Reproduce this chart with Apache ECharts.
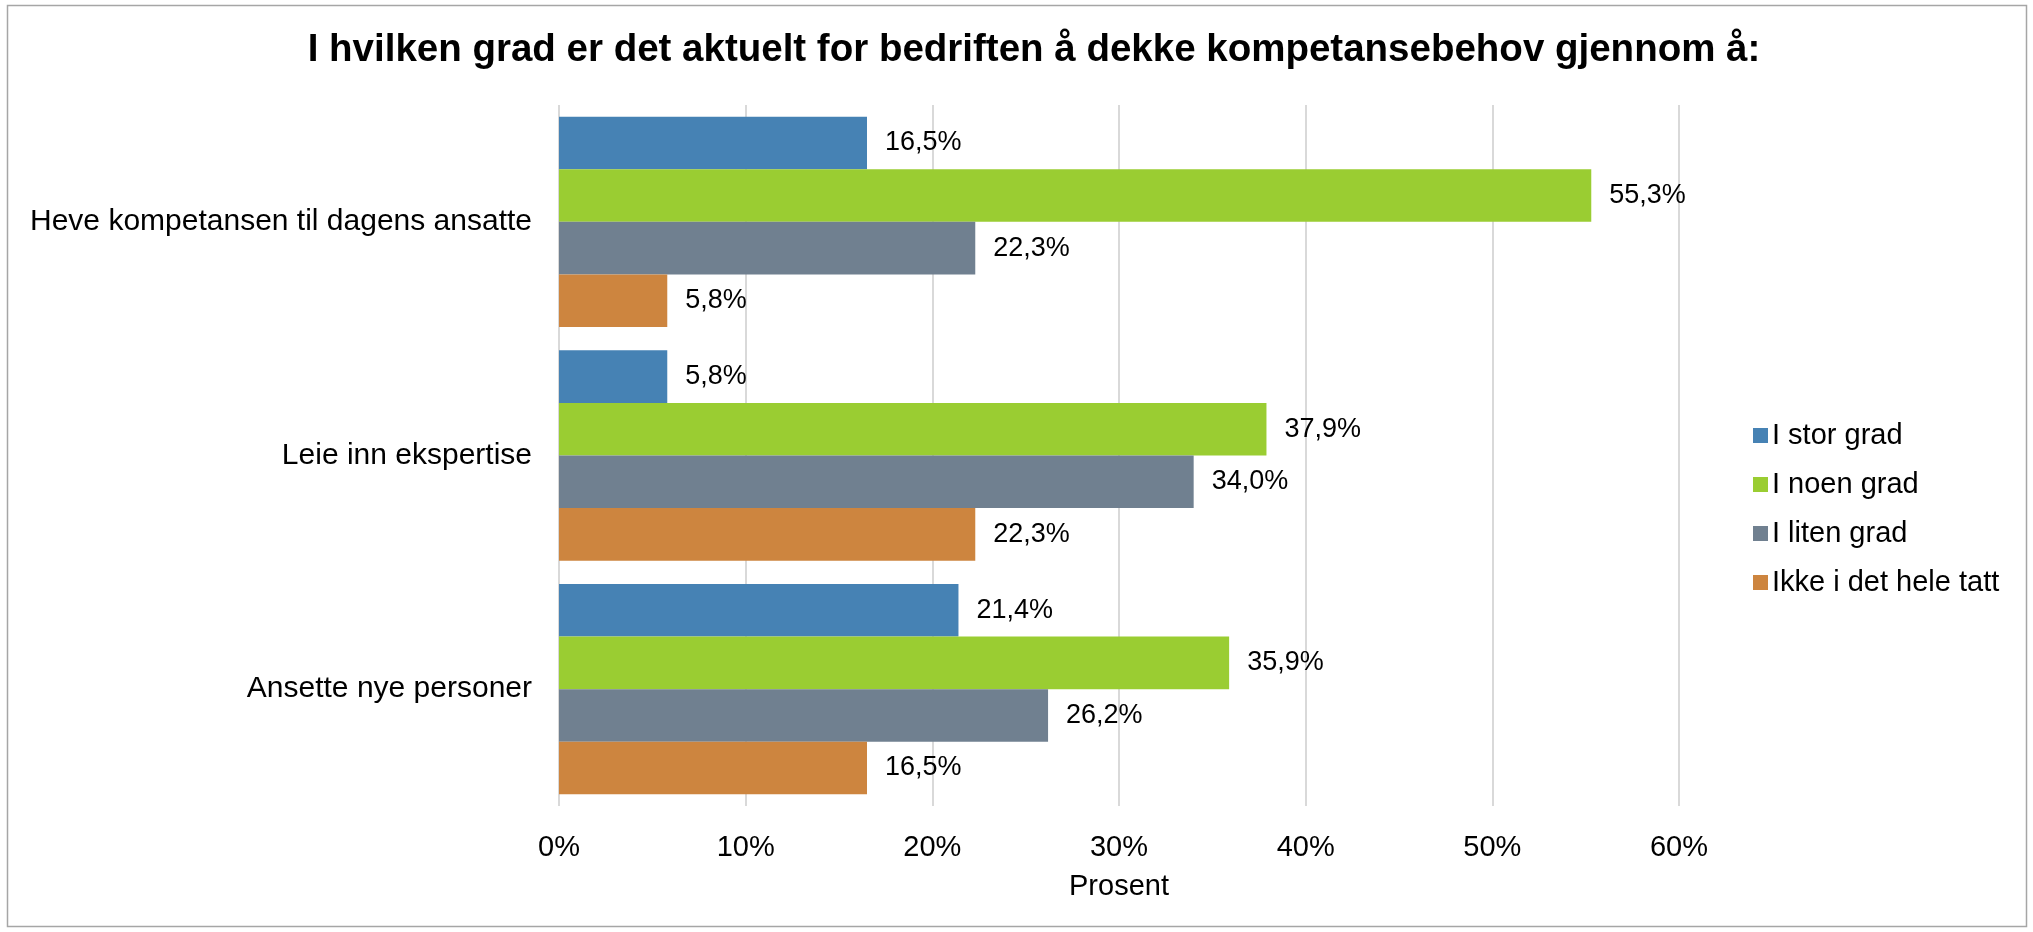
<!DOCTYPE html>
<html>
<head>
<meta charset="utf-8">
<script src="https://cdn.jsdelivr.net/npm/echarts@6/dist/echarts.min.js"></script>
<style>
html, body { margin: 0; padding: 0; background: #fff; }
#chart { width: 2033px; height: 932px; }
</style>
</head>
<body>
<div id="chart"></div>
<script>
var categories = ['Heve kompetansen til dagens ansatte', 'Leie inn ekspertise', 'Ansette nye personer'];
var seriesNames = ['I stor grad', 'I noen grad', 'I liten grad', 'Ikke i det hele tatt'];
var storGrad = [16.5, 5.8, 21.4];
var noenGrad = [55.3, 37.9, 35.9];
var litenGrad = [22.3, 34.0, 26.2];
var ikkeHele = [5.8, 22.3, 16.5];
var colors = ['#4682B4', '#9ACD32', '#708090', '#CD853F'];

var chart = echarts.init(document.getElementById('chart'));
var font = 'Liberation Sans, Arial, sans-serif';

function pct(v) {
    return v.toFixed(1).replace('.', ',') + '%';
}

var allData = [storGrad, noenGrad, litenGrad, ikkeHele];
var series = allData.map(function (d, i) {
    return {
        name: seriesNames[i],
        type: 'bar',
        data: d,
        barCategoryGap: '10%',
        barGap: '0%',
        itemStyle: { color: colors[i] },
        label: {
            show: true,
            position: 'right',
            distance: 18,
            color: '#000',
            fontFamily: font,
            fontSize: 27,
            formatter: function (p) { return pct(p.value); }
        }
    };
});

var option = {
    backgroundColor: '#fff',
    animation: false,
    title: {
        text: 'I hvilken grad er det aktuelt for bedriften å dekke kompetansebehov gjennom å:',
        left: 1029,
        textAlign: 'center',
        top: 26,
        textStyle: { fontFamily: font, fontSize: 38.5, fontWeight: 'bold', color: '#000' }
    },
    legend: {
        orient: 'vertical',
        left: 1748,
        top: 416,
        itemWidth: 15,
        itemHeight: 15,
        itemGap: 20,
        icon: 'rect',
        data: seriesNames,
        textStyle: { fontFamily: font, fontSize: 29, color: '#000', padding: [0, 0, 0, -1] }
    },
    graphic: [{
        type: 'rect',
        shape: { x: 7.5, y: 5.5, width: 2019, height: 921 },
        style: { fill: 'none', stroke: '#a6a6a6', lineWidth: 1.5 }
    }],
    grid: { left: 559, right: 354, top: 105, bottom: 126 },
    xAxis: {
        type: 'value',
        min: 0,
        max: 60,
        interval: 10,
        name: 'Prosent',
        nameLocation: 'middle',
        nameGap: 66,
        nameTextStyle: { fontFamily: font, fontSize: 29, color: '#000' },
        axisLine: { show: false },
        axisTick: { show: false },
        axisLabel: {
            fontFamily: font, fontSize: 29, color: '#000', margin: 27,
            formatter: function (v) { return v + '%'; }
        },
        splitLine: { show: true, lineStyle: { color: '#d9d9d9', width: 2 } }
    },
    yAxis: {
        type: 'category',
        data: categories,
        inverse: true,
        axisLine: { show: false },
        axisTick: { show: false },
        axisLabel: { fontFamily: font, fontSize: 30, color: '#000', margin: 27 }
    },
    series: series
};

chart.setOption(option);
</script>
</body>
</html>
